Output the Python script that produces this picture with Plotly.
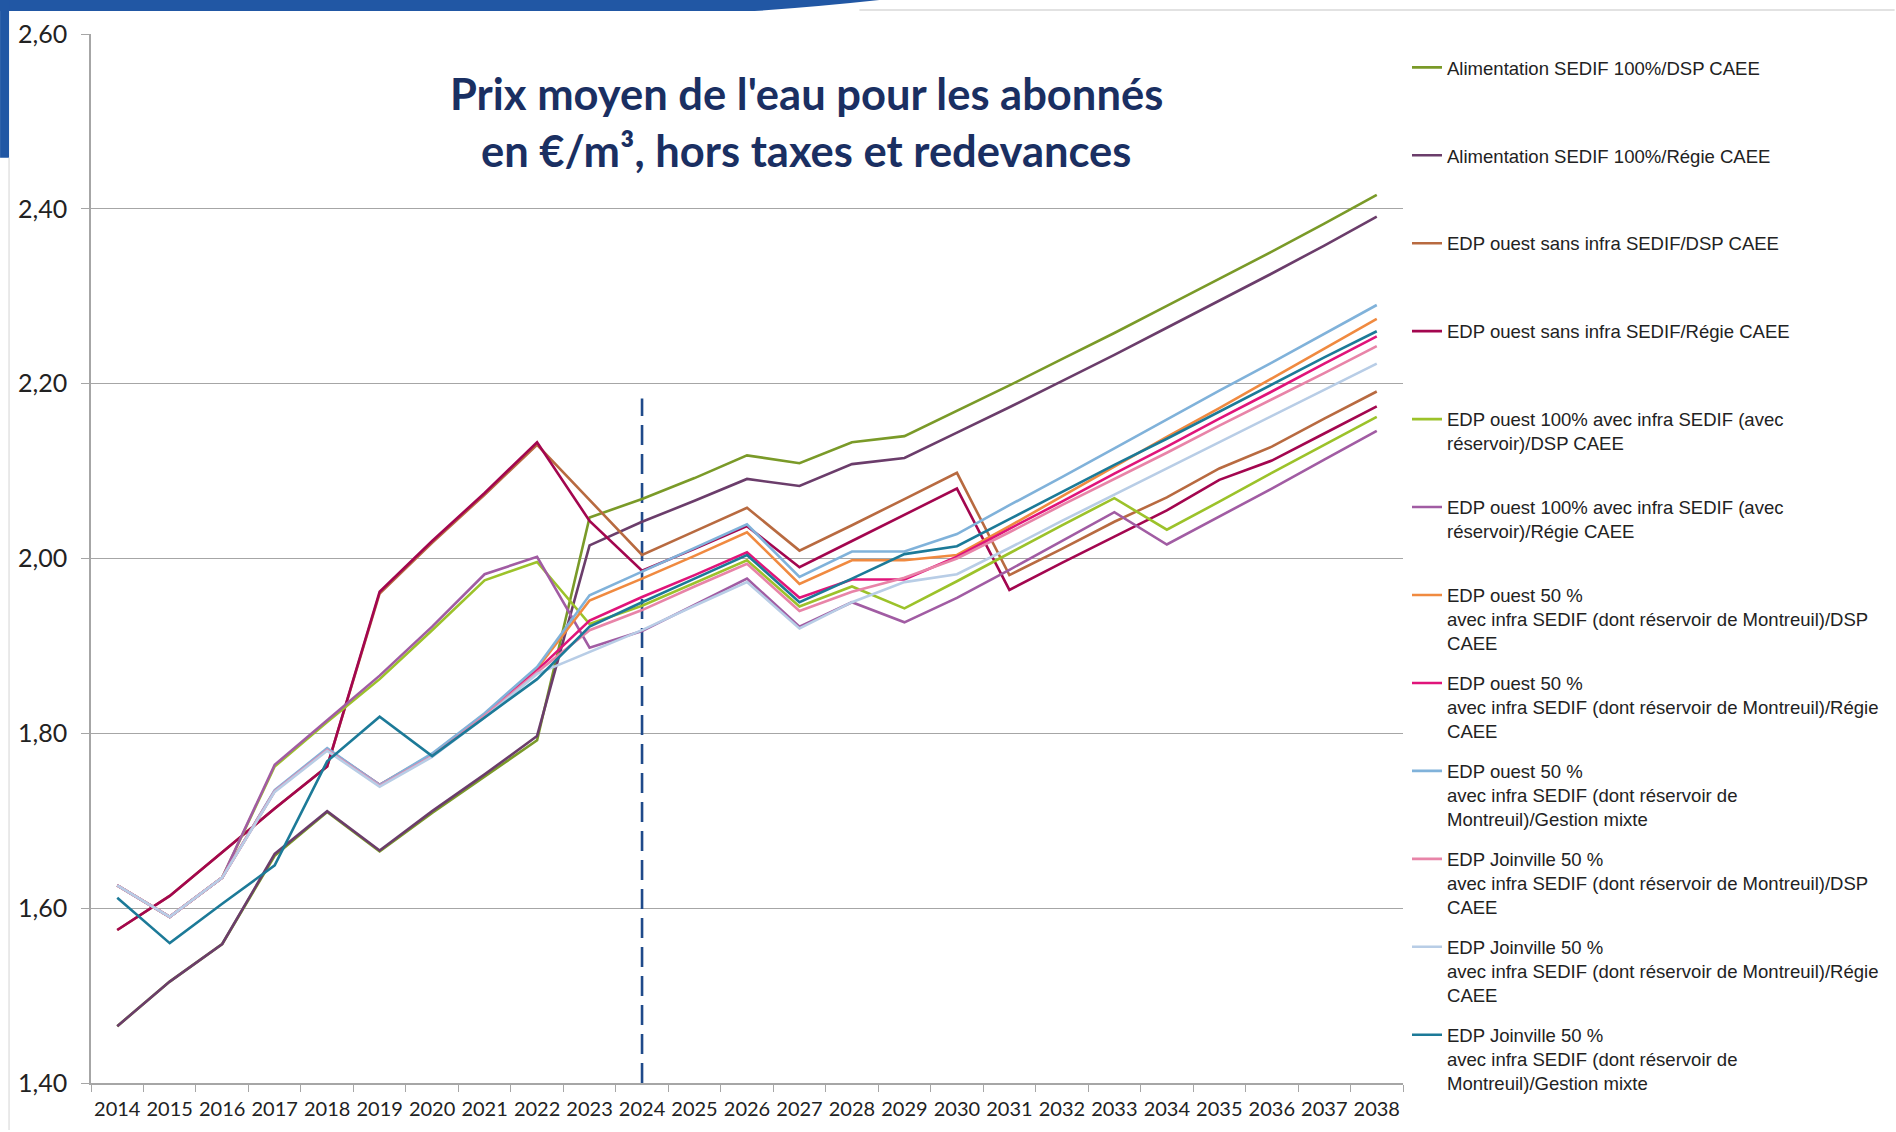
import plotly.graph_objects as go

# ---------------- data ----------------
years = ["2014", "2015", "2016", "2017", "2018", "2019", "2020", "2021", "2022", "2023",
         "2024", "2025", "2026", "2027", "2028", "2029", "2030", "2031", "2032", "2033",
         "2034", "2035", "2036", "2037", "2038"]

alim_dsp = [1.465, 1.516, 1.559, 1.660, 1.710, 1.665, 1.709, 1.750, 1.792, 2.047,
            2.068, 2.092, 2.118, 2.109, 2.133, 2.140, 2.169, 2.198, 2.228, 2.258,
            2.289, 2.320, 2.351, 2.383, 2.416]
alim_regie = [1.465, 1.516, 1.559, 1.662, 1.711, 1.666, 1.711, 1.753, 1.797, 2.015,
              2.042, 2.066, 2.091, 2.083, 2.108, 2.115, 2.144, 2.173, 2.203, 2.233,
              2.264, 2.295, 2.326, 2.358, 2.391]
ouest_sans_dsp = [1.575, 1.614, 1.664, 1.714, 1.762, 1.960, 2.018, 2.073, 2.130, 2.067,
                  2.004, 2.031, 2.058, 2.009, 2.038, 2.068, 2.098, 1.981, 2.011, 2.042,
                  2.070, 2.103, 2.128, 2.160, 2.191]
ouest_sans_regie = [1.575, 1.614, 1.664, 1.714, 1.762, 1.962, 2.020, 2.075, 2.133, 2.043,
                    1.986, 2.011, 2.037, 1.990, 2.020, 2.050, 2.080, 1.964, 1.995, 2.025,
                    2.055, 2.090, 2.112, 2.143, 2.174]
ouest100_dsp = [1.626, 1.590, 1.635, 1.762, 1.813, 1.862, 1.918, 1.975, 1.996, 1.925,
                1.946, 1.972, 1.998, 1.945, 1.968, 1.943, 1.974, 2.006, 2.038, 2.069,
                2.033, 2.065, 2.098, 2.130, 2.162]
ouest100_regie = [1.626, 1.590, 1.635, 1.764, 1.815, 1.866, 1.922, 1.982, 2.002, 1.898,
                  1.917, 1.947, 1.977, 1.922, 1.950, 1.927, 1.955, 1.987, 2.020, 2.053,
                  2.016, 2.048, 2.080, 2.113, 2.146]
ouest50_dsp = [1.626, 1.590, 1.635, 1.734, 1.782, 1.741, 1.776, 1.822, 1.874, 1.952,
               1.977, 2.003, 2.030, 1.971, 1.998, 1.998, 2.004, 2.037, 2.071, 2.105,
               2.139, 2.172, 2.206, 2.240, 2.274]
ouest50_regie = [1.626, 1.590, 1.635, 1.734, 1.782, 1.741, 1.775, 1.821, 1.872, 1.929,
                 1.956, 1.981, 2.007, 1.955, 1.976, 1.976, 2.002, 2.034, 2.065, 2.097,
                 2.128, 2.160, 2.191, 2.223, 2.254]
ouest50_mixte = [1.626, 1.590, 1.635, 1.735, 1.783, 1.741, 1.777, 1.823, 1.876, 1.958,
                 1.985, 2.012, 2.039, 1.979, 2.008, 2.008, 2.028, 2.061, 2.093, 2.126,
                 2.159, 2.192, 2.224, 2.257, 2.290]
joinv50_dsp = [1.626, 1.590, 1.635, 1.734, 1.781, 1.740, 1.774, 1.820, 1.870, 1.918,
               1.941, 1.968, 1.994, 1.940, 1.962, 1.978, 2.000, 2.030, 2.061, 2.091,
               2.121, 2.152, 2.182, 2.212, 2.243]
joinv50_regie = [1.626, 1.590, 1.635, 1.733, 1.780, 1.739, 1.773, 1.818, 1.868, 1.893,
                 1.918, 1.946, 1.973, 1.920, 1.950, 1.973, 1.982, 2.012, 2.043, 2.073,
                 2.103, 2.133, 2.163, 2.193, 2.223]
joinv50_mixte = [1.612, 1.560, 1.605, 1.649, 1.768, 1.819, 1.774, 1.818, 1.862, 1.922,
                 1.950, 1.977, 2.004, 1.950, 1.977, 2.005, 2.014, 2.045, 2.076, 2.107,
                 2.137, 2.168, 2.199, 2.230, 2.260]

series_names = [
    "Alimentation SEDIF 100%/DSP CAEE",
    "Alimentation SEDIF 100%/Régie CAEE",
    "EDP ouest sans infra SEDIF/DSP CAEE",
    "EDP ouest sans infra SEDIF/Régie CAEE",
    "EDP ouest 100% avec infra SEDIF (avec<br>réservoir)/DSP CAEE",
    "EDP ouest 100% avec infra SEDIF (avec<br>réservoir)/Régie CAEE",
    "EDP ouest 50 %<br>avec infra SEDIF (dont réservoir de Montreuil)/DSP<br>CAEE",
    "EDP ouest 50 %<br>avec infra SEDIF (dont réservoir de Montreuil)/Régie<br>CAEE",
    "EDP ouest 50 %<br>avec infra SEDIF (dont réservoir de<br>Montreuil)/Gestion mixte",
    "EDP Joinville 50 %<br>avec infra SEDIF (dont réservoir de Montreuil)/DSP<br>CAEE",
    "EDP Joinville 50 %<br>avec infra SEDIF (dont réservoir de Montreuil)/Régie<br>CAEE",
    "EDP Joinville 50 %<br>avec infra SEDIF (dont réservoir de<br>Montreuil)/Gestion mixte",
]
series_values = [alim_dsp, alim_regie, ouest_sans_dsp, ouest_sans_regie, ouest100_dsp,
                 ouest100_regie, ouest50_dsp, ouest50_regie, ouest50_mixte, joinv50_dsp,
                 joinv50_regie, joinv50_mixte]
series_colors = ["#7a9a28", "#6b3d6b", "#b86a40", "#a3064f", "#9cc22a", "#a15ca3",
                 "#f08a40", "#e0147a", "#80b2da", "#e884a8", "#b8cde6", "#1c7a98"]

title_lines = ["Prix moyen de l'eau pour les abonnés",
               "en €/m³, hors taxes et redevances"]
y_ticks = [1.40, 1.60, 1.80, 2.00, 2.20, 2.40, 2.60]
marker_year = "2024"
marker_top = 2.183

# ---------------- layout geometry (pixels) ----------------
W, H = 1896, 1132
L, R, T, B = 91, 492, 34, 47
PW, PH = W - L - R, H - T - B


def px(x):
    return (x - L) / PW


def py(y):
    return (H - B - y) / PH


fig = go.Figure()

# dashed separator at 2024 (drawn first, under the series)
fig.add_trace(go.Scatter(
    x=[marker_year, marker_year], y=[y_ticks[0], marker_top], mode="lines",
    line=dict(color="#1f4a8a", width=2.6, dash="20px,9px"),
    showlegend=False, hoverinfo="skip",
))

for name, vals, col in zip(series_names, series_values, series_colors):
    n_lines = name.count("<br>") + 1
    label = name + "<br>\u00a0" * (3 - n_lines)
    fig.add_trace(go.Scatter(
        x=years, y=vals, name=label, mode="lines",
        line=dict(color=col, width=2.6),
        legendgroup=name,
    ))

# slide frame decorations
blue = "#2157a4"
fig.add_shape(type="path", xref="paper", yref="paper", layer="above",
              path=f"M {px(0)} {py(0)} L {px(880)} {py(0)} Q {px(815)} {py(7)} {px(755)} {py(11)} L {px(0)} {py(11)} Z",
              fillcolor=blue, line=dict(width=0))
fig.add_shape(type="rect", xref="paper", yref="paper", layer="above",
              x0=px(0), x1=px(9), y0=py(0), y1=py(158),
              fillcolor=blue, line=dict(width=0))
fig.add_shape(type="line", xref="paper", yref="paper",
              x0=px(860), x1=px(W), y0=py(10), y1=py(10),
              line=dict(color="#d9d9d9", width=1.5))
fig.add_shape(type="line", xref="paper", yref="paper",
              x0=px(9), x1=px(9), y0=py(158), y1=py(H),
              line=dict(color="#e3e3e3", width=1.5))

# title
for line_txt, ypix in zip(title_lines, [93, 150]):
    fig.add_annotation(text=f"<b>{line_txt}</b>", xref="paper", yref="paper",
                       x=px(807), y=py(ypix), xanchor="center", yanchor="middle",
                       showarrow=False,
                       font=dict(family="Lato", size=43.5, color="#1a2f62"))

fig.update_layout(
    width=W, height=H, autosize=False,
    margin=dict(l=L, r=R, t=T, b=B, pad=0),
    paper_bgcolor="white", plot_bgcolor="white",
    separators=", ",
    showlegend=True,
    legend=dict(
        x=px(1408), y=py(48.8), xanchor="left", yanchor="top",
        traceorder="grouped", tracegroupgap=12.6, valign="top",
        maxheight=1130,
        font=dict(family="Liberation Sans", size=18.55, color="#222222"),
        bgcolor="rgba(0,0,0,0)", borderwidth=0,
    ),
    xaxis=dict(
        type="category", categoryorder="array", categoryarray=years,
        range=[-0.5, len(years) - 0.5],
        showgrid=False, showline=True, linecolor="#a6a6a6", linewidth=1.5,
        ticks="outside", tickson="boundaries", ticklen=7, tickcolor="#a6a6a6", tickwidth=1.3,
        tickangle=0, ticklabelstandoff=7,
        tickfont=dict(family="Lato", size=20, color="#222222"),
        zeroline=False, fixedrange=True,
    ),
    yaxis=dict(
        range=[y_ticks[0], y_ticks[-1]], tickvals=y_ticks, tickformat=".2f",
        showgrid=True, gridcolor="#a6a6a6", gridwidth=1.3,
        showline=True, linecolor="#a6a6a6", linewidth=1.5,
        ticks="outside", ticklen=8, tickcolor="#a6a6a6", tickwidth=1.3,
        ticklabelstandoff=9,
        tickfont=dict(family="Lato", size=25, color="#222222"),
        zeroline=False, fixedrange=True,
    ),
)

fig.write_html("out.html", config={"displayModeBar": False},
               post_script="document.body.style.margin='0';")
